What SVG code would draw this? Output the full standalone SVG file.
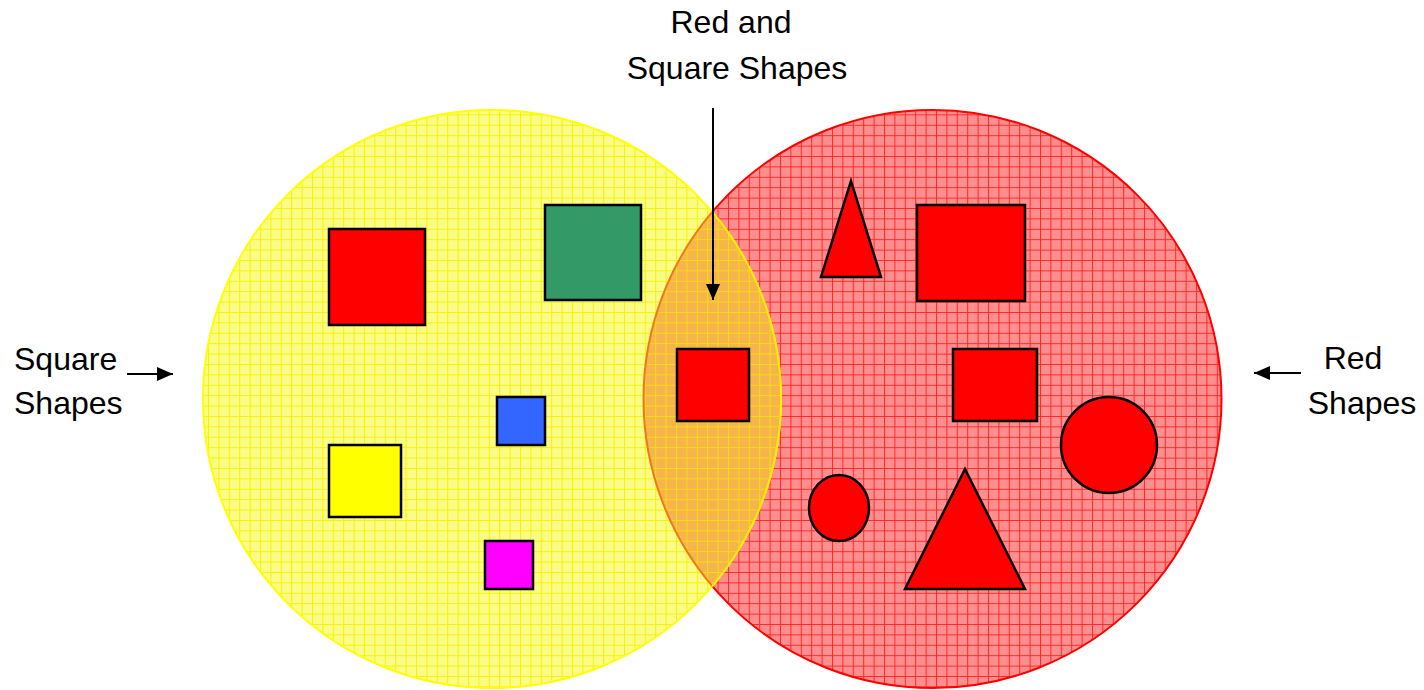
<svg xmlns="http://www.w3.org/2000/svg" width="1424" height="690" viewBox="0 0 1424 690">
  <style>
    .lbl { font-family: "Liberation Sans", Arial, sans-serif; font-size: 32px; fill: #000; }
    .shape { stroke: #000; stroke-width: 2.5; }
    .conn { stroke: #000; stroke-width: 2; fill: none; }
  </style>
  <defs>
    <pattern id="patY" patternUnits="userSpaceOnUse" x="0" y="0" width="10.4" height="10.4">
      <rect width="10.4" height="10.4" fill="#fbfb88"/>
      <path d="M0,0.5 H10.4 M0.5,0 V10.4" stroke="#f4f400" stroke-width="1"/>
    </pattern>
    <pattern id="patR" patternUnits="userSpaceOnUse" x="0" y="0" width="10.4" height="10.4">
      <rect width="10.4" height="10.4" fill="#ff8e8e"/>
      <path d="M0,0.5 H10.4 M0.5,0 V10.4" stroke="#ff2a2a" stroke-width="1"/>
    </pattern>
    <pattern id="patO" patternUnits="userSpaceOnUse" x="0" y="0" width="10.4" height="10.4">
      <rect width="10.4" height="10.4" fill="#f6b44c"/>
      <path d="M0,0.5 H10.4 M0.5,0 V10.4" stroke="#f6dc10" stroke-width="1"/>
    </pattern>
    <marker id="arrow" markerUnits="userSpaceOnUse" viewBox="0 0 16 14" refX="16" refY="7" markerWidth="16" markerHeight="14" orient="auto">
      <path d="M0,0 L16,7 L0,14 Z" fill="#000"/>
    </marker>
  </defs>

  <g id="red-set">
    <circle cx="932.5" cy="399" r="289" fill="url(#patR)" stroke="#ff0000" stroke-width="2"/>
  </g>
  <g id="square-set">
    <circle cx="492" cy="399" r="289" fill="url(#patY)" stroke="#ffff00" stroke-width="2"/>
  </g>
  <g id="overlap">
    <path d="M712.25,211.9 A289,289 0 0 1 712.25,586.1 A289,289 0 0 1 712.25,211.9 Z" fill="url(#patO)"/>
    <path d="M712.25,586.1 A289,289 0 0 1 712.25,211.9" fill="none" stroke="#f07818" stroke-width="2"/>
    <path d="M712.25,211.9 A289,289 0 0 1 712.25,586.1" fill="none" stroke="#ffee00" stroke-width="2"/>
  </g>

  <g id="sq-red"><rect class="shape" x="329" y="229" width="96" height="96" fill="#ff0000"/></g>
  <g id="sq-green"><rect class="shape" x="545" y="205" width="96" height="95" fill="#339966"/></g>
  <g id="sq-blue"><rect class="shape" x="497" y="397" width="48" height="48" fill="#3366ff"/></g>
  <g id="sq-yellow"><rect class="shape" x="329" y="445" width="72" height="72" fill="#ffff00"/></g>
  <g id="sq-magenta"><rect class="shape" x="485" y="541" width="48" height="48" fill="#ff00ff"/></g>
  <g id="sq-red-overlap"><rect class="shape" x="677" y="349" width="72" height="72" fill="#ff0000"/></g>

  <g id="tri-narrow"><polygon class="shape" points="851,181 881,277 821,277" fill="#ff0000"/></g>
  <g id="rect-red-1"><rect class="shape" x="917" y="205" width="108" height="96" fill="#ff0000"/></g>
  <g id="rect-red-2"><rect class="shape" x="953" y="349" width="84" height="72" fill="#ff0000"/></g>
  <g id="circle-big"><circle class="shape" cx="1109" cy="445" r="48" fill="#ff0000"/></g>
  <g id="circle-small"><ellipse class="shape" cx="839" cy="508" rx="30" ry="33" fill="#ff0000"/></g>
  <g id="tri-big"><polygon class="shape" points="965,469 1025,589 905,589" fill="#ff0000"/></g>

  <g id="connectors">
    <line class="conn" x1="713" y1="108" x2="713" y2="300" marker-end="url(#arrow)"/>
    <line class="conn" x1="127" y1="374" x2="173" y2="374" marker-end="url(#arrow)"/>
    <line class="conn" x1="1301" y1="373" x2="1254" y2="373" marker-end="url(#arrow)"/>
  </g>

  <g id="label-both">
    <text class="lbl" x="731" y="33" text-anchor="middle">Red and</text>
    <text class="lbl" x="737" y="79" text-anchor="middle">Square Shapes</text>
  </g>
  <g id="label-square">
    <text class="lbl" x="14" y="370">Square</text>
    <text class="lbl" x="14" y="414">Shapes</text>
  </g>
  <g id="label-red">
    <text class="lbl" x="1353" y="369" text-anchor="middle">Red</text>
    <text class="lbl" x="1362" y="414" text-anchor="middle">Shapes</text>
  </g>
</svg>
